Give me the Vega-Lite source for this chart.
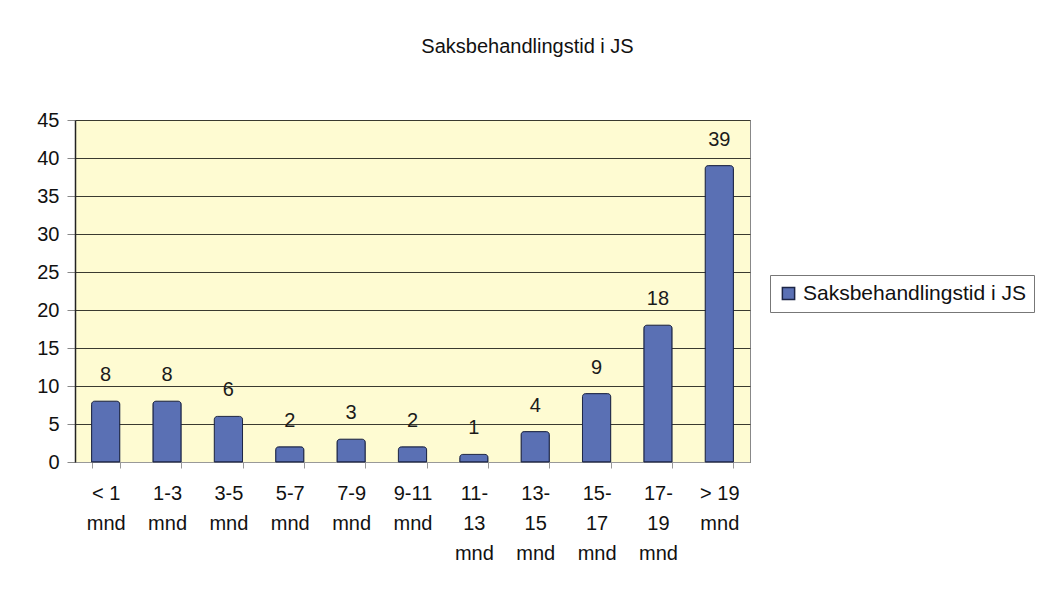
{
  "$schema": "https://vega.github.io/schema/vega-lite/v6.json",
  "width": 675,
  "height": 342,
  "autosize": {"type": "none"},
  "padding": {"left": 75, "top": 120, "right": 287, "bottom": 129},
  "background": "white",
  "title": {
    "text": "Saksbehandlingstid i JS",
    "anchor": "middle",
    "offset": 53,
    "dx": 115,
    "font": "Liberation Sans",
    "fontSize": 20,
    "fontWeight": "normal",
    "color": "#111"
  },
  "data": {
    "values": [
      {"kat": "< 1|mnd", "antall": 8, "serie": "Saksbehandlingstid i JS"},
      {"kat": "1-3|mnd", "antall": 8, "serie": "Saksbehandlingstid i JS"},
      {"kat": "3-5|mnd", "antall": 6, "serie": "Saksbehandlingstid i JS"},
      {"kat": "5-7|mnd", "antall": 2, "serie": "Saksbehandlingstid i JS"},
      {"kat": "7-9|mnd", "antall": 3, "serie": "Saksbehandlingstid i JS"},
      {"kat": "9-11|mnd", "antall": 2, "serie": "Saksbehandlingstid i JS"},
      {"kat": "11-|13|mnd", "antall": 1, "serie": "Saksbehandlingstid i JS"},
      {"kat": "13-|15|mnd", "antall": 4, "serie": "Saksbehandlingstid i JS"},
      {"kat": "15-|17|mnd", "antall": 9, "serie": "Saksbehandlingstid i JS"},
      {"kat": "17-|19|mnd", "antall": 18, "serie": "Saksbehandlingstid i JS"},
      {"kat": "> 19|mnd", "antall": 39, "serie": "Saksbehandlingstid i JS"}
    ]
  },
  "encoding": {
    "x": {
      "field": "kat",
      "type": "nominal",
      "sort": null,
      "title": null,
      "scale": {"paddingInner": 0.54, "paddingOuter": 0.27},
      "axis": {
        "labelExpr": "split(datum.label, '|')",
        "labelAngle": 0,
        "labelFont": "Liberation Sans",
        "labelFontSize": 20,
        "labelColor": "#111",
        "labelLineHeight": 30,
        "labelPadding": 15,
        "labelBaseline": "top",
        "tickBand": "extent",
        "tickSize": 6,
        "tickColor": "#999",
        "domainColor": "#999",
        "grid": false
      }
    },
    "y": {
      "field": "antall",
      "type": "quantitative",
      "title": null,
      "scale": {"domain": [0, 45], "nice": false},
      "axis": {
        "values": [0, 5, 10, 15, 20, 25, 30, 35, 40, 45],
        "labelOverlap": false,
        "labelFont": "Liberation Sans",
        "labelFontSize": 20,
        "labelColor": "#111",
        "labelPadding": 8,
        "tickSize": 8,
        "tickColor": "#888",
        "domainColor": "#222",
        "domainWidth": 1.5,
        "grid": true,
        "gridColor": "#3a3a30",
        "gridWidth": 1.2
      }
    }
  },
  "layer": [
    {
      "mark": {"type": "bar", "stroke": "#1c2546", "strokeWidth": 1, "cornerRadiusEnd": 3},
      "encoding": {
        "color": {
          "field": "serie",
          "type": "nominal",
          "scale": {"range": ["#5a70b4"]},
          "legend": {
            "title": null,
            "orient": "none",
            "legendX": 695,
            "legendY": 155,
            "symbolType": "square",
            "symbolSize": 150,
            "labelFont": "Liberation Sans",
            "labelFontSize": 21,
            "labelColor": "#111",
            "labelLimit": 400,
            "padding": 8,
            "strokeColor": "#777",
            "fillColor": "white",
            "encode": {
              "symbols": {"update": {"fill": {"value": "#1e1e1e"}, "stroke": {"value": "#1e1e1e"}}}
            }
          }
        }
      }
    },
    {
      "mark": {
        "type": "text",
        "baseline": "middle",
        "dy": -26,
        "font": "Liberation Sans",
        "fontSize": 20,
        "color": "#1a1a1a"
      },
      "encoding": {
        "text": {"field": "antall", "type": "quantitative"}
      }
    }
  ],
  "config": {
    "view": {"fill": "#fefbd2", "stroke": "#888", "strokeWidth": 1}
  }
}
